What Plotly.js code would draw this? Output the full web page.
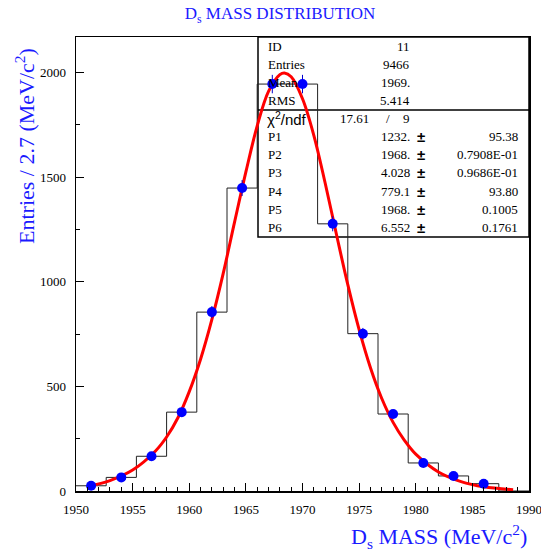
<!DOCTYPE html>
<html><head><meta charset="utf-8">
<script src="https://cdn.plot.ly/plotly-3.0.1.min.js"></script>
<style>html,body{margin:0;padding:0;background:#fff}</style>
</head><body><div id="chart" style="width:541px;height:553px"></div>
<script>
// Histogram: bin edges, centres and contents
const binEdges = [1950, 1952.667, 1955.333, 1958, 1960.667, 1963.333, 1966, 1968.667, 1971.333, 1974, 1976.667, 1979.333, 1982, 1984.667, 1987.333, 1990];
const binCenters = [1951.333, 1954, 1956.667, 1959.333, 1962, 1964.667, 1967.333, 1970, 1972.667, 1975.333, 1978, 1980.667, 1983.333, 1986, 1988.667];
const entries = [25, 65, 166, 377, 855, 1448, 1945, 1945, 1277, 752, 368, 134, 72, 35, 0];

// Fitted curve
const fitX = [1951.3, 1953, 1955, 1957, 1958, 1959, 1960, 1961, 1962, 1963, 1964, 1965, 1966, 1967, 1968, 1968.4, 1969, 1970, 1971, 1972, 1973, 1974, 1975, 1976, 1977, 1978, 1979, 1980, 1982, 1984, 1986, 1988.6];
const fitY = [26, 50, 100, 190, 258, 350, 475, 630, 820, 1040, 1285, 1525, 1745, 1910, 1990, 1998, 1980, 1875, 1700, 1472, 1226, 986, 771, 589, 442, 328, 242, 176, 91, 45, 20, 6];

// Statistics box texts
const statLabels = ['ID', 'Entries', 'Mean', 'RMS'];
const statValues = ['11', '9466', '1969.', '5.414'];
const chi2Value = '17.61';
const ndfValue = '9';
const paramNames = ['P1', 'P2', 'P3', 'P4', 'P5', 'P6'];
const paramValues = ['1232.', '1968.', '4.028', '779.1', '1968.', '6.552'];
const paramErrors = ['95.38', '0.7908E-01', '0.9686E-01', '93.80', '0.1005', '0.1761'];

const serif = "'Liberation Serif', 'Times New Roman', serif";
const sans = "'Liberation Sans', Arial, sans-serif";
const blue = '#1a1aff';

const stepY = entries.concat([entries[entries.length - 1]]);
const ptX = [], ptY = [];
binCenters.forEach((c, i) => { if (entries[i] > 0) { ptX.push(c); ptY.push(entries[i]); } });

const traces = [
  { x: binEdges, y: stepY, mode: 'lines', line: { shape: 'hv', color: '#222', width: 1 }, hoverinfo: 'skip' },
  { x: fitX, y: fitY, mode: 'lines', line: { shape: 'spline', color: '#ff0000', width: 3 } },
  { x: ptX, y: ptY, mode: 'markers', marker: { color: '#0000ff', size: 10 },
    error_y: { type: 'sqrt', color: '#0000cc', thickness: 1, width: 0 } }
];

// geometry helpers (paper coords)
const plotTop = 37, plotBottom = 491, plotLeft = 76, plotRight = 529;
const py = p => (plotBottom - p) / (plotBottom - plotTop);
const px = p => (p - plotLeft) / (plotRight - plotLeft);
const rowY = i => py(46 + 18.13 * i);

const ann = [];
function addText(text, x, y, anchor, family, size) {
  ann.push({ text: text, x: x, y: y, xref: 'paper', yref: 'paper', xanchor: anchor, yanchor: 'middle',
    showarrow: false, font: { family: family || serif, size: size || 13, color: '#000' } });
}
statLabels.forEach((l, i) => { addText(l, px(266), rowY(i), 'left'); addText(statValues[i], px(412), rowY(i), 'right'); });
addText('χ<sup>2</sup>/ndf', px(265), rowY(4), 'left', sans, 15);
addText(chi2Value, px(371), rowY(4), 'right');
addText('/', px(388), rowY(4), 'center');
addText(ndfValue, px(412), rowY(4), 'right');
paramNames.forEach((n, i) => {
  addText(n, px(266), rowY(5 + i), 'left');
  addText(paramValues[i], px(412), rowY(5 + i), 'right');
  addText('<b>±</b>', px(421), rowY(5 + i), 'center', sans, 15);
  addText(paramErrors[i], px(520), rowY(5 + i), 'right');
});
// axis titles
ann.push({ text: 'Entries / 2.7 (MeV/c<sup>2</sup>)', x: px(25), y: py(146), xref: 'paper', yref: 'paper',
  xanchor: 'center', yanchor: 'middle', textangle: -90, showarrow: false, font: { family: serif, size: 22, color: blue } });
ann.push({ text: 'D<sub>s</sub> MASS (MeV/c<sup>2</sup>)', x: 1, y: py(536), xref: 'paper', yref: 'paper',
  xanchor: 'right', yanchor: 'middle', showarrow: false, font: { family: serif, size: 22, color: blue } });

const layout = {
  width: 541, height: 553,
  margin: { l: plotLeft, r: 541 - plotRight, t: plotTop, b: 553 - plotBottom },
  paper_bgcolor: '#fff', plot_bgcolor: '#fff', showlegend: false,
  title: { text: 'D<sub>s</sub> MASS DISTRIBUTION', x: 280 / 541, xref: 'container', xanchor: 'center',
    y: 1 - 13 / 553, yref: 'container', yanchor: 'middle', font: { family: serif, size: 17, color: blue } },
  xaxis: { range: [1950, 1990], tick0: 1950, dtick: 5, ticks: 'inside', ticklen: 8, tickwidth: 1, tickcolor: '#000',
    minor: { ticks: 'inside', ticklen: 4, dtick: 1, tickcolor: '#000', tickwidth: 1, showgrid: false },
    showline: true, mirror: true, linecolor: '#000', linewidth: 1.5, showgrid: false, zeroline: false,
    ticklabeloverflow: 'allow',
    tickfont: { family: serif, size: 13, color: '#000' }, ticklabelstandoff: 6 },
  yaxis: { range: [0, 2170], tick0: 0, dtick: 500, ticks: 'inside', ticklen: 8, tickwidth: 1, tickcolor: '#000',
    minor: { ticks: 'inside', ticklen: 4, dtick: 250, tickcolor: '#000', tickwidth: 1, showgrid: false },
    showline: true, mirror: true, linecolor: '#000', linewidth: 1.5, showgrid: false, zeroline: false,
    tickfont: { family: serif, size: 13, color: '#000' }, ticklabelstandoff: 6 },
  shapes: [
    { type: 'rect', xref: 'paper', yref: 'paper', x0: px(258), x1: 1, y0: py(237), y1: 1, line: { color: '#000', width: 1.5 }, layer: 'below' },
    { type: 'line', xref: 'paper', yref: 'paper', x0: px(258), x1: 1, y0: py(110), y1: py(110), line: { color: '#000', width: 1.5 }, layer: 'below' }
  ],
  annotations: ann
};
Plotly.newPlot('chart', traces, layout, { staticPlot: true, displayModeBar: false });
</script></body></html>
